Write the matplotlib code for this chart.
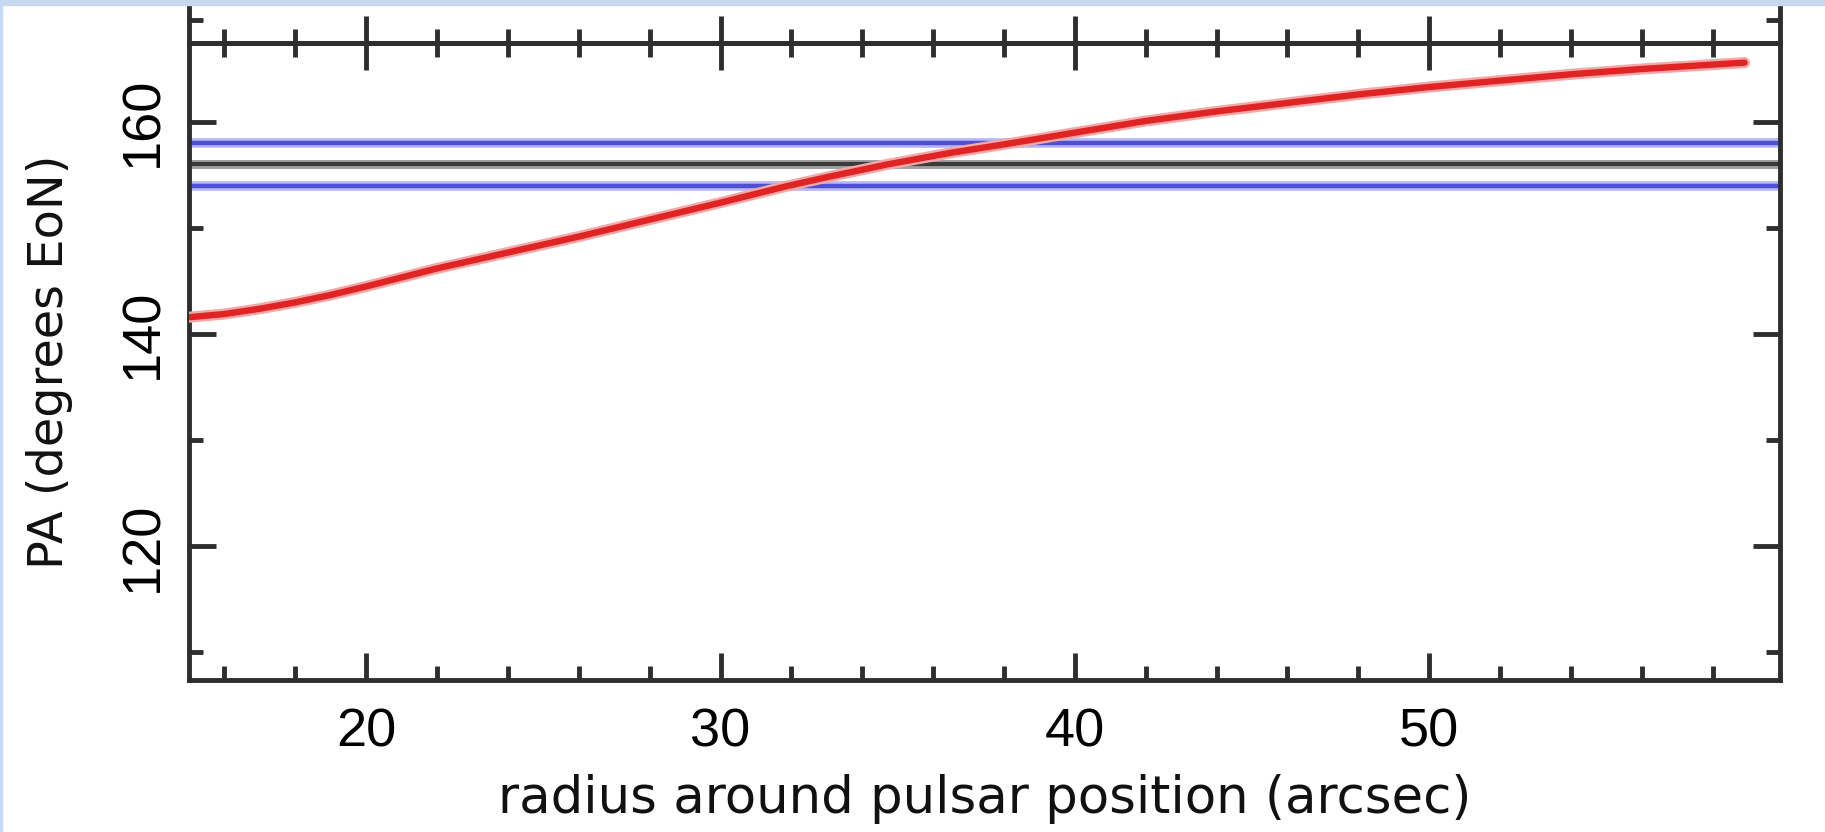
import matplotlib
matplotlib.use("Agg")
import matplotlib.pyplot as plt
from matplotlib.patches import Rectangle
from matplotlib.ticker import MultipleLocator, NullFormatter

# Red curve: position angle vs radius
radius = [15.0, 16.0, 17.0, 18.0, 19.0, 20.0, 22.0, 24.0, 26.0, 28.0, 30.0,
          31.8, 33.0, 34.7, 36.5, 38.2, 40.0, 42.0, 44.0, 46.0, 48.0, 50.0,
          52.0, 54.0, 56.0, 58.9]
pa = [141.6, 141.9, 142.4, 143.0, 143.7, 144.5, 146.2, 147.7, 149.2, 150.8,
      152.4, 153.9, 154.8, 156.0, 157.1, 158.0, 159.0, 160.1, 161.0, 161.8,
      162.6, 163.3, 163.9, 164.5, 165.0, 165.6]

# Horizontal reference: mean and +/- range
pa_mean = 156.0
pa_band = [154.0, 158.0]

xlim = (15, 59.9)
ylim = (107.4, 167.45)

W, H = 1825, 832
fig = plt.figure(figsize=(W / 100, H / 100), dpi=100)
fig.patch.set_facecolor("white")

left, right, bottom, top = 189, 1780, 680, 43
ax = fig.add_axes([left / W, 1 - bottom / H, (right - left) / W, (bottom - top) / H])
# empty panel above (only its bottom edge and a bit of frame is visible)
ax_up = fig.add_axes([left / W, 1 - top / H, (right - left) / W, 0.2])

spine_col = "#2e2e2e"
for a in (ax, ax_up):
    for s in a.spines.values():
        s.set_linewidth(3.5)
        s.set_color(spine_col)
    a.set_xlim(*xlim)
    a.xaxis.set_major_locator(MultipleLocator(10))
    a.xaxis.set_minor_locator(MultipleLocator(2))

ax.plot(radius, pa, color="#f5a8a8", lw=8, solid_capstyle="round", zorder=3)
ax.plot(radius, pa, color="#e02424", lw=4.6, solid_capstyle="round", zorder=4)

for yv in pa_band:
    ax.axhline(yv, color="#b8b8f6", lw=7, zorder=2)
    ax.axhline(yv, color="#4f4fd2", lw=3.2, zorder=2)
ax.axhline(pa_mean, color="#a0a0a0", lw=6.5, zorder=2)
ax.axhline(pa_mean, color="#3a3a3a", lw=3.0, zorder=2)

ax.set_ylim(*ylim)
ax.yaxis.set_major_locator(MultipleLocator(20))
ax.yaxis.set_minor_locator(MultipleLocator(10))

ax.tick_params(which="both", direction="in", top=True, right=True,
               color=spine_col, width=3.5)
ax.tick_params(which="major", length=19.5)
ax.tick_params(which="minor", length=10)
ax.tick_params(axis="x", which="major", pad=20, labelsize=39)
ax.tick_params(axis="y", which="major", pad=15, labelsize=39)
for lab in ax.get_xticklabels() + ax.get_yticklabels():
    lab.set_family("Liberation Sans")
for lab in ax.get_yticklabels():
    lab.set_rotation(90)
    lab.set_va("center")

# upper panel: ticks pointing up from the shared edge, no labels
ax_up.set_facecolor("none")
ax_up.set_ylim(0, 1)
ax_up.set_yticks([0.14])
ax_up.tick_params(which="both", direction="in", bottom=True, top=False,
                  left=True, right=True, labelbottom=False, labelleft=False,
                  color=spine_col, width=3.5)
ax_up.tick_params(which="major", length=19.5)
ax_up.tick_params(axis="y", which="major", length=10)
ax_up.tick_params(which="minor", length=10)
ax_up.xaxis.set_minor_formatter(NullFormatter())

fig.text(984.5 / W, 1 - 813 / H, "radius around pulsar position (arcsec)",
         ha="center", va="baseline", fontsize=37, family="DejaVu Sans",
         color="#111111")
fig.text(63 / W, 1 - 362 / H, "PA (degrees EoN)", rotation=90,
         rotation_mode="anchor", ha="center", va="baseline", fontsize=34.5,
         family="DejaVu Sans", color="#111111")

# light blue border of the screenshot
fig.patches.append(Rectangle((0, 1 - 5 / H), 1, 5 / H, transform=fig.transFigure,
                             color="#c6d9f1", zorder=5))
fig.patches.append(Rectangle((0, 0), 2 / W, 1, transform=fig.transFigure,
                             color="#c6d9f1", zorder=5))

fig.savefig("out.png", dpi=100)
